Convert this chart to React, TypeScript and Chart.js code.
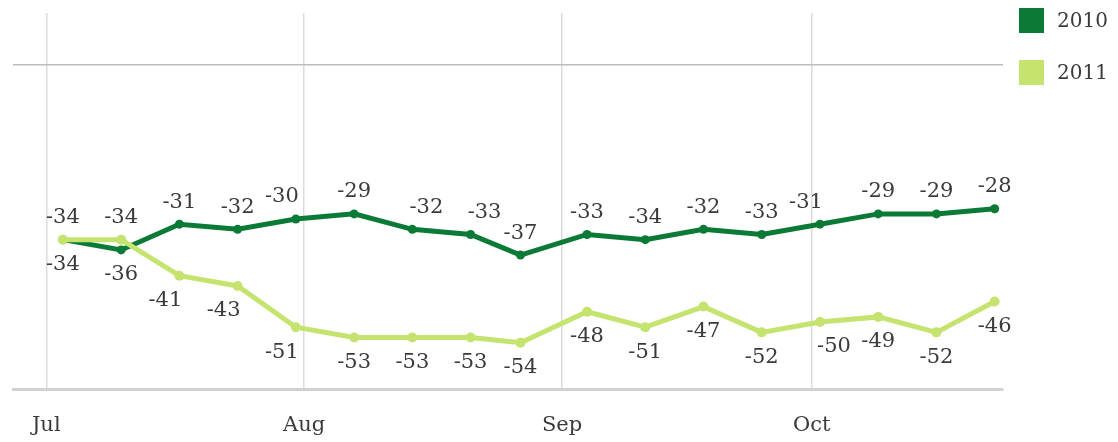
import React, { useEffect, useRef } from "react";
import { Chart, registerables } from "chart.js";

Chart.register(...registerables);

// Day offsets from July 1 for each weekly reading
const weekDays = [2, 9, 16, 23, 30, 37, 44, 51, 57, 65, 72, 79, 86, 93, 100, 107, 114];
const values2010 = [-34, -36, -31, -32, -30, -29, -32, -33, -37, -33, -34, -32, -33, -31, -29, -29, -28];
const values2011 = [-34, -34, -41, -43, -51, -53, -53, -53, -54, -48, -51, -47, -52, -50, -49, -52, -46];
const monthDays = [0, 31, 62, 92];
const monthLabels = ["Jul", "Aug", "Sep", "Oct"];
const seriesNames = ["2010", "2011"];
const seriesColors = ["#0b7a36", "#c5e36f"];

const FONT = '"DejaVu Serif", Georgia, serif';
const TEXT = "#3a3a3a";

const labelPlugin = {
  id: "pointLabels",
  afterDatasetsDraw(chart: any) {
    const ctx = chart.ctx;
    ctx.save();
    ctx.font = `21px ${FONT}`;
    ctx.fillStyle = TEXT;
    ctx.textAlign = "center";
    ctx.textBaseline = "middle";
    const ds = chart.data.datasets;
    ds.forEach((d: any, di: number) => {
      const meta = chart.getDatasetMeta(di);
      const other = ds[1 - di].data;
      meta.data.forEach((pt: any, i: number) => {
        const v = d.data[i].y;
        const ov = other[i].y;
        const above = v > ov || (v === ov && di === 0);
        const l = i > 0 ? d.data[i - 1].y : undefined;
        const r = i < d.data.length - 1 ? d.data[i + 1].y : undefined;
        let dx = 0;
        if (l !== undefined && r !== undefined) {
          const rising = l < v && r > v;
          const falling = l > v && r < v;
          if (above) {
            if (rising) dx = -14;
            else if (falling) dx = 14;
          } else {
            if (falling) dx = -14;
            else if (rising) dx = 14;
          }
        }
        const dy = above ? -22 : 25;
        ctx.fillText(String(v), pt.x + dx, pt.y + dy);
      });
    });
    ctx.restore();
  },
};

export default function App() {
  const ref = useRef<HTMLCanvasElement | null>(null);

  useEffect(() => {
    if (!ref.current) return;
    const prevOverflow = document.documentElement.style.overflow;
    document.documentElement.style.overflow = "hidden";
    const toPts = (vals: number[]) => vals.map((y, i) => ({ x: weekDays[i], y }));
    const chart = new Chart(ref.current, {
      type: "line",
      data: {
        datasets: [
          {
            label: seriesNames[0],
            data: toPts(values2010),
            borderColor: seriesColors[0],
            backgroundColor: seriesColors[0],
            borderWidth: 5,
            pointRadius: 4.5,
            pointBorderWidth: 0,
            tension: 0,
            order: 1,
          },
          {
            label: seriesNames[1],
            data: toPts(values2011),
            borderColor: seriesColors[1],
            backgroundColor: seriesColors[1],
            borderWidth: 5,
            pointRadius: 5,
            pointBorderWidth: 0,
            tension: 0,
            order: 0,
          },
        ],
      },
      options: {
        animation: false,
        responsive: false,
        layout: { padding: { left: 1, right: 107, top: 3, bottom: 0 } },
        plugins: {
          legend: { display: false },
          tooltip: { enabled: false },
        },
        scales: {
          x: {
            type: "linear",
            min: -4,
            max: 115,
            afterBuildTicks: (axis: any) => {
              axis.ticks = monthDays.map((v) => ({ value: v }));
            },
            afterFit: (axis: any) => {
              axis.paddingLeft = 0;
              axis.paddingRight = 0;
              axis.height = 53;
            },
            ticks: {
              autoSkip: false,
              maxRotation: 0,
              padding: 26,
              color: TEXT,
              font: { family: FONT, size: 21, lineHeight: 1 },
              callback: (value: any) => {
                const idx = monthDays.indexOf(Number(value));
                return idx >= 0 ? monthLabels[idx] : "";
              },
            },
            grid: { color: "#dcdcdc", lineWidth: 1.5, drawTicks: false },
            border: { display: true, color: "#d2d2d2", width: 3 },
          },
          y: {
            type: "linear",
            min: -63,
            max: 10,
            afterBuildTicks: (axis: any) => {
              axis.ticks = [{ value: 0 }];
            },
            ticks: { display: false },
            grid: { color: "#bdbdbd", lineWidth: 1.5, drawTicks: false },
            border: { display: false },
          },
        },
      },
      plugins: [labelPlugin],
    });
    return () => {
      chart.destroy();
      document.documentElement.style.overflow = prevOverflow;
    };
  }, []);

  return (
    <div style={{ position: "relative", width: 1102, height: 434 }}>
      <canvas ref={ref} width={1102} height={434} style={{ display: "block" }} />
      {seriesNames.map((name, i) => (
        <div
          key={name}
          style={{
            position: "absolute",
            left: 1011,
            top: i * 52,
            display: "flex",
            alignItems: "center",
            height: 25,
          }}
        >
          <div style={{ width: 25, height: 25, background: seriesColors[i] }} />
          <span
            style={{
              marginLeft: 13,
              fontFamily: FONT,
              fontSize: 20,
              color: TEXT,
              lineHeight: "25px",
            }}
          >
            {name}
          </span>
        </div>
      ))}
    </div>
  );
}
